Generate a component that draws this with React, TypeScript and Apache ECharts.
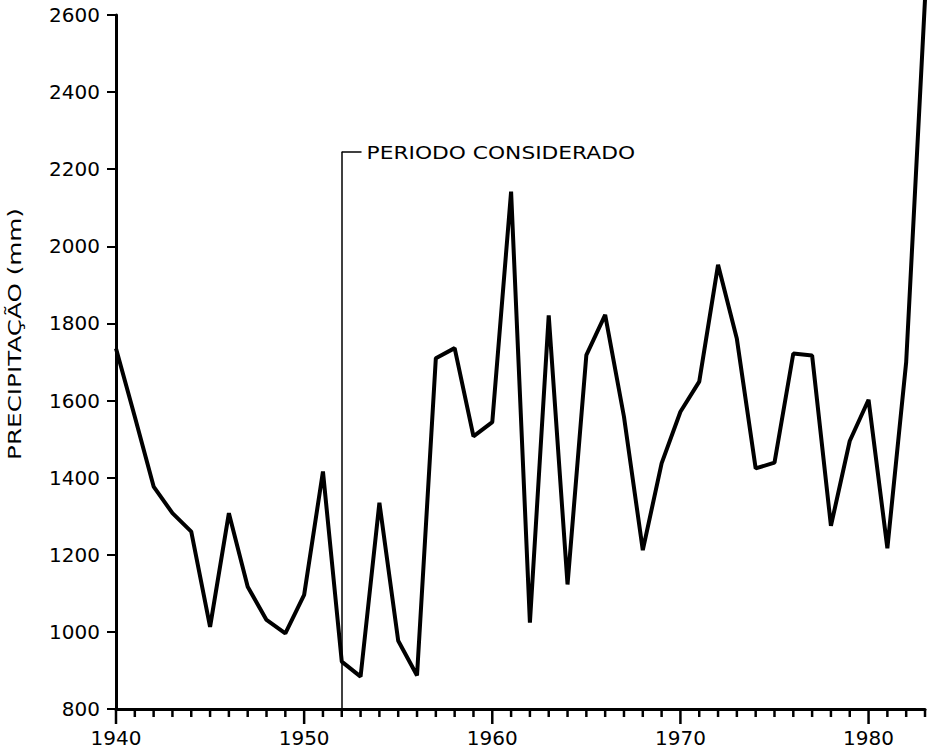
import React, { useEffect, useRef } from "react";
import * as echarts from "echarts";

// Years (x) and annual precipitation in mm (y)
const years = [
  1940, 1941, 1942, 1943, 1944, 1945, 1946, 1947, 1948, 1949,
  1950, 1951, 1952, 1953, 1954, 1955, 1956, 1957, 1958, 1959,
  1960, 1961, 1962, 1963, 1964, 1965, 1966, 1967, 1968, 1969,
  1970, 1971, 1972, 1973, 1974, 1975, 1976, 1977, 1978, 1979,
  1980, 1981, 1982, 1983,
];
const precipitation = [
  1735, 1558, 1377, 1308, 1260, 1013, 1308, 1117, 1031, 996,
  1096, 1416, 923, 884, 1335, 977, 887, 1710, 1736, 1507,
  1544, 2142, 1024, 1821, 1123, 1718, 1822, 1558, 1212, 1437,
  1571, 1649, 1952, 1760, 1424, 1439, 1722, 1717, 1275, 1495,
  1602, 1217, 1700, 2640,
];

const xMin = 1940;
const xMax = 1983;
const xMajorStep = 10;
const yMin = 800;
const yMax = 2600;
const yStep = 200;

// "Período considerado" marker
const periodStartYear = 1952;
const periodTopValue = 2245;
const periodStubEndYear = 1953.05;
const periodLabel = "PERIODO CONSIDERADO";
const yTitle = "PRECIPITAÇÃO (mm)";

const FONT = "DejaVu Sans";

export default function App() {
  const ref = useRef<HTMLDivElement>(null);

  useEffect(() => {
    if (!ref.current) return;
    const chart = echarts.init(ref.current, null, { renderer: "svg" });

    const option: any = {
      animation: false,
      grid: { left: 116, right: 6, top: 15, bottom: 42 },
      xAxis: {
        type: "value",
        min: xMin,
        max: xMax,
        interval: xMajorStep,
        position: "bottom",
        axisLine: { show: true, lineStyle: { color: "#000", width: 3 } },
        axisTick: { show: false },
        axisLabel: {
          show: true,
          showMaxLabel: false,
          color: "#000",
          fontSize: 20,
          fontFamily: FONT,
          margin: 19,
          formatter: (v: number) => (v % 10 === 0 ? String(v) : ""),
        },
        splitLine: { show: false },
      },
      yAxis: {
        type: "value",
        min: yMin,
        max: yMax,
        interval: yStep,
        axisLine: { show: true, lineStyle: { color: "#000", width: 3 } },
        axisTick: { show: true, length: 9, lineStyle: { color: "#000", width: 2 } },
        axisLabel: {
          color: "#000",
          fontSize: 20,
          fontFamily: FONT,
          margin: 16,
          formatter: (v: number) => String(v),
        },
        splitLine: { show: false },
      },
      series: [
        {
          type: "line",
          data: years.map((y, i) => [y, precipitation[i]]),
          symbol: "none",
          showSymbol: false,
          clip: false,
          z: 3,
          lineStyle: { color: "#000", width: 4 },
          markLine: {
            silent: true,
            symbol: ["none", "none"],
            label: { show: false },
            lineStyle: { color: "#000", width: 1.5, type: "solid" },
            data: [
              [{ coord: [periodStartYear, yMin] }, { coord: [periodStartYear, periodTopValue] }],
              [{ coord: [periodStartYear, periodTopValue] }, { coord: [periodStubEndYear, periodTopValue] }],
            ],
          },
        },
        {
          // yearly tick marks on the x axis (long ones every decade)
          type: "custom",
          silent: true,
          clip: false,
          z: 5,
          data: years.map((y) => [y, yMin]),
          renderItem: (params: any, api: any) => {
            const year = api.value(0);
            const base = api.coord([year, api.value(1)]);
            const len = (year - xMin) % xMajorStep === 0 ? 15 : 8;
            return {
              type: "line",
              shape: { x1: base[0], y1: base[1], x2: base[0], y2: base[1] + len },
              style: { stroke: "#000", lineWidth: 2.5 },
            };
          },
        },
      ],
    };

    chart.setOption(option);

    const p = chart.convertToPixel({ xAxisIndex: 0, yAxisIndex: 0 }, [
      periodStubEndYear,
      periodTopValue,
    ]) as number[];
    const yTop = chart.convertToPixel({ yAxisIndex: 0 }, yMax) as number;
    const yBottom = chart.convertToPixel({ yAxisIndex: 0 }, yMin) as number;

    chart.setOption({
      graphic: [
        {
          type: "text",
          x: p[0] + 5,
          y: p[1] + 1,
          scaleX: 1.28,
          style: {
            text: periodLabel,
            fontSize: 17,
            fontFamily: FONT,
            fill: "#000",
            align: "left",
            verticalAlign: "middle",
          },
        },
        {
          type: "text",
          x: 15,
          y: (yTop + yBottom) / 2 - 28,
          rotation: Math.PI / 2,
          scaleX: 1.37,
          style: {
            text: yTitle,
            fontSize: 18,
            fontFamily: FONT,
            fill: "#000",
            align: "center",
            verticalAlign: "middle",
          },
        },
      ],
    });

    return () => chart.dispose();
  }, []);

  return (
    <div
      ref={ref}
      style={{ position: "absolute", left: 0, top: 0, width: 931, height: 751, background: "#fff" }}
    />
  );
}
